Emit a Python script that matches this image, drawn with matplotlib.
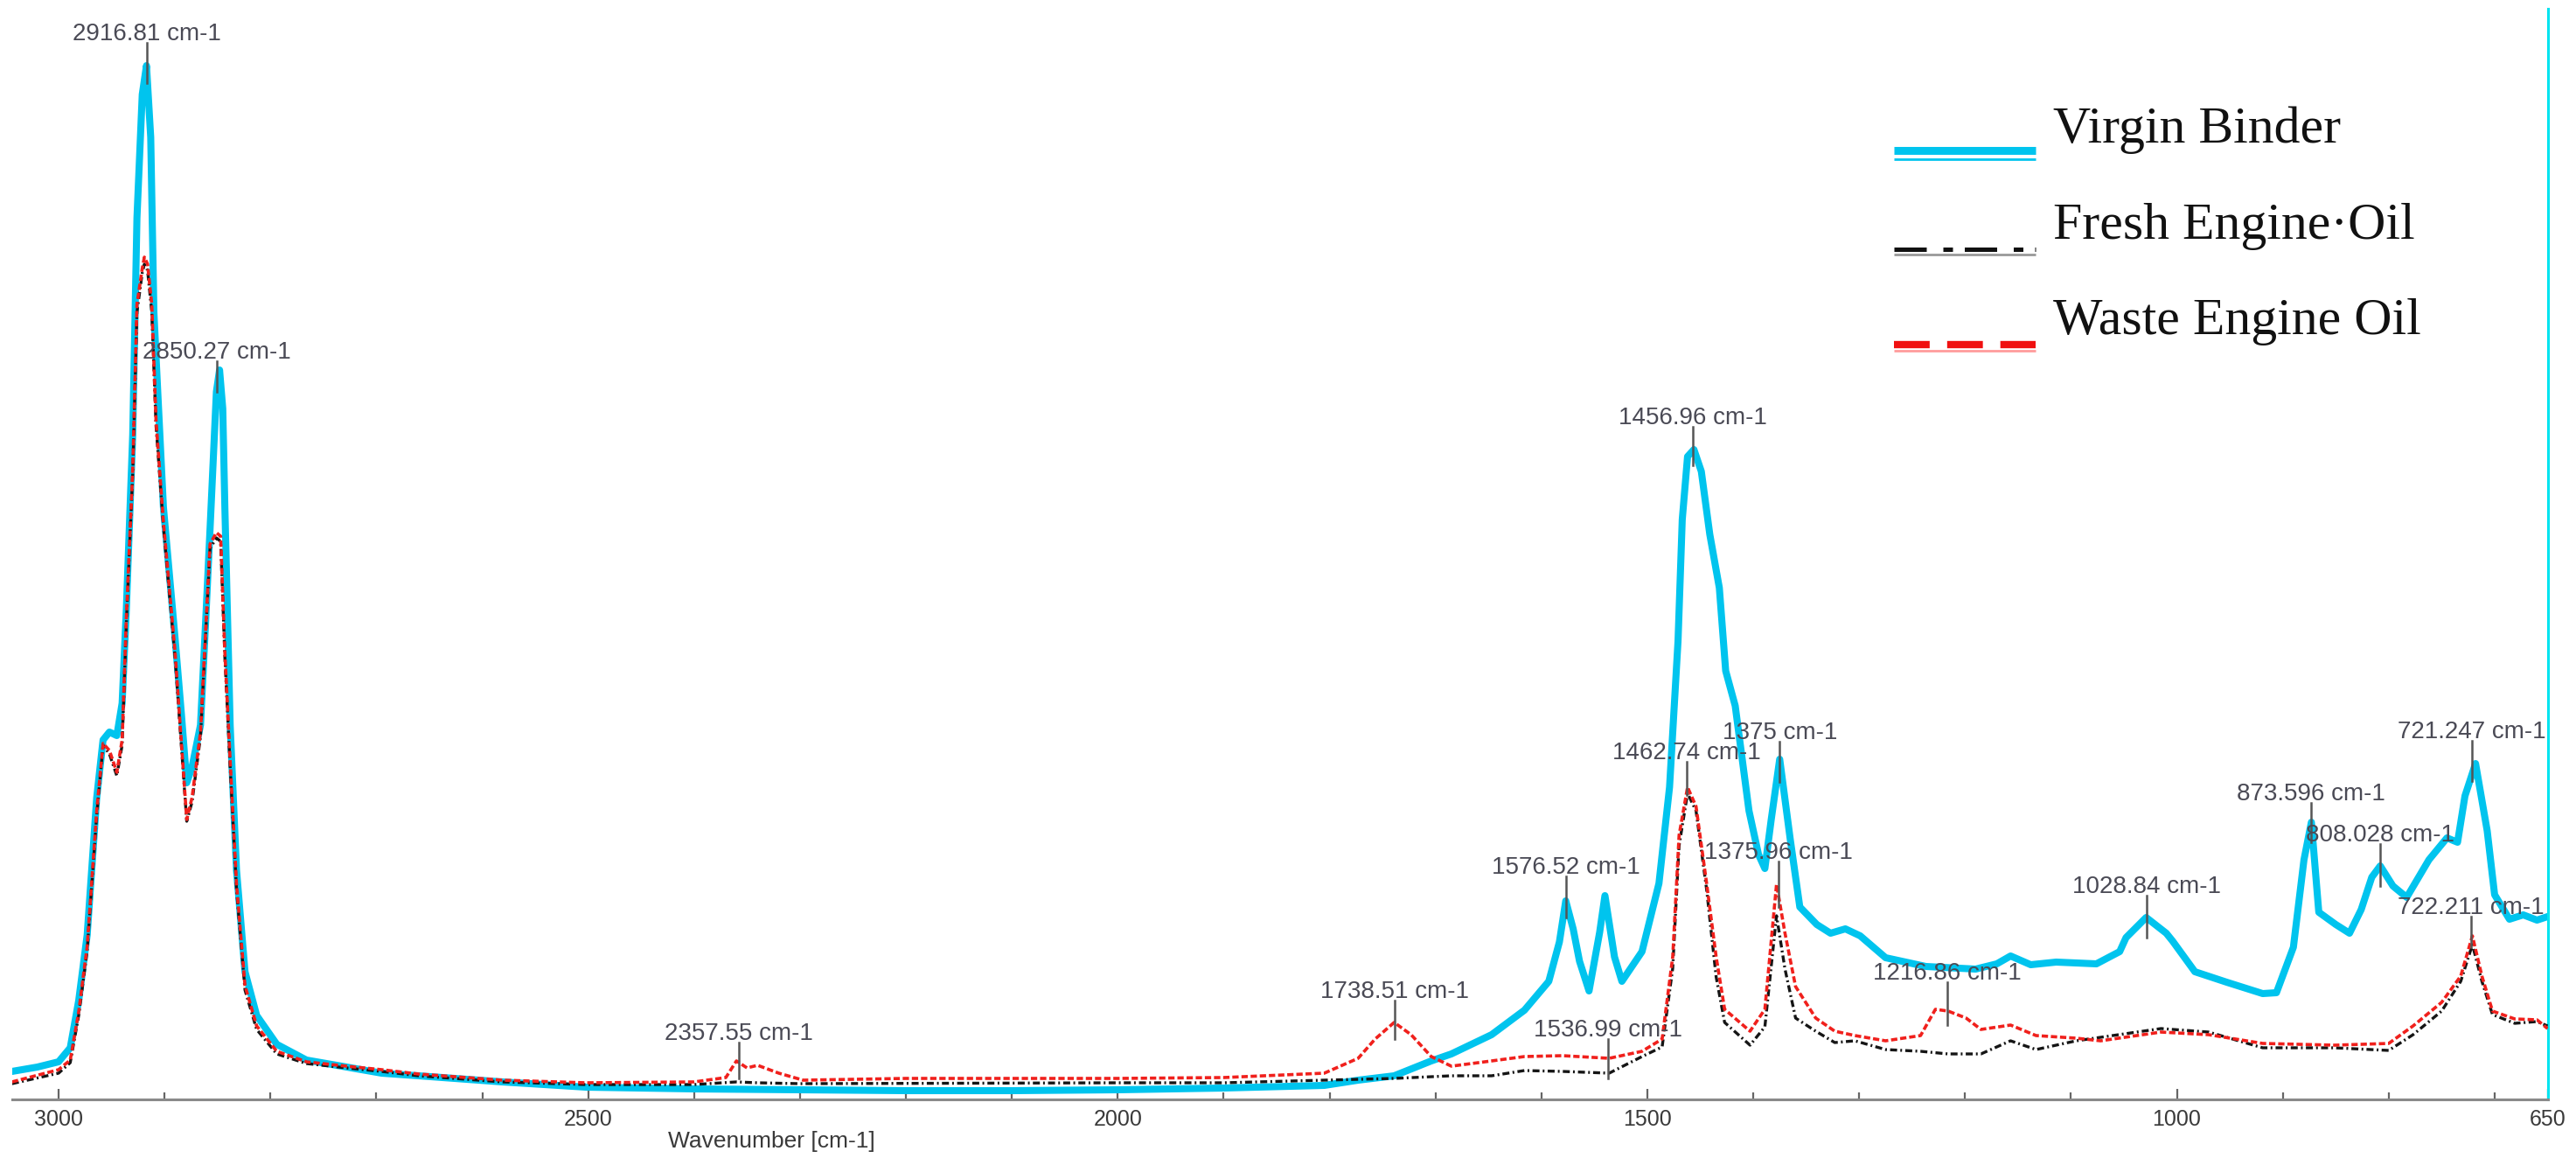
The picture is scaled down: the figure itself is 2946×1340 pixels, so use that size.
import numpy as np
import matplotlib
matplotlib.use('Agg')
import matplotlib.pyplot as plt
from matplotlib.lines import Line2D

# FTIR spectra: wavenumber (cm-1) and intensity (arbitrary units)
virgin_wn = [3044, 3020, 3000, 2989, 2981, 2973, 2964, 2958, 2952, 2945, 2940, 2936, 2930, 2926,
             2921, 2917, 2913, 2910, 2906, 2901, 2890, 2884, 2879, 2874, 2866, 2861, 2857, 2851,
             2848, 2845, 2843, 2838, 2832, 2824, 2813, 2794, 2766, 2728, 2695, 2660, 2581, 2502,
             2400, 2300, 2200, 2100, 2000, 1900, 1805, 1773, 1739, 1704, 1685, 1647, 1616, 1593,
             1583, 1577, 1570, 1564, 1555, 1545, 1540, 1531, 1524, 1505, 1489, 1479, 1471, 1467,
             1462, 1456, 1449, 1441, 1432, 1426, 1417, 1404, 1395, 1389, 1383, 1375, 1365, 1356,
             1340, 1327, 1313, 1299, 1275, 1237, 1190, 1170, 1157, 1138, 1114, 1076, 1054, 1048,
             1029, 1010, 1004, 983, 953, 919, 906, 890, 880, 873, 866, 850, 837, 826, 816, 808,
             796, 783, 762, 745, 735, 728, 718, 707, 700, 686, 673, 660, 650]
virgin_int = [32, 37, 43, 59, 113, 188, 345, 411, 420, 416, 453, 561, 760, 1008,
              1149, 1182, 1100, 900, 800, 677, 527, 440, 362, 380, 428, 550, 652, 809,
              834, 790, 677, 428, 262, 146, 96, 63, 45, 37, 30, 27, 20, 14,
              12, 11, 10, 10, 11, 13, 16, 22, 27, 44, 52, 74, 102, 135,
              180, 227, 195, 158, 124, 191, 233, 163, 135, 169, 247, 357, 524, 663,
              735, 743, 718, 646, 585, 490, 450, 330, 280, 264, 320, 389, 297, 220,
              200, 190, 195, 187, 162, 152, 149, 155, 164, 154, 157, 155, 169, 185,
              208, 190, 181, 146, 134, 121, 122, 174, 274, 317, 214, 200, 190, 217, 254, 267,
              244, 231, 274, 299, 294, 347, 384, 307, 234, 206, 211, 205, 209]

fresh_wn = [3044, 3000, 2989, 2981, 2973, 2964, 2958, 2952, 2945, 2940, 2936, 2930, 2926, 2921,
            2919, 2916, 2912, 2908, 2901, 2890, 2879, 2874, 2866, 2857, 2851, 2847, 2843, 2838,
            2832, 2824, 2813, 2794, 2766, 2728, 2695, 2660, 2581, 2502, 2400, 2360, 2340, 2300,
            2000, 1900, 1805, 1739, 1685, 1647, 1616, 1580, 1536, 1505, 1486, 1476, 1470, 1462,
            1454, 1444, 1435, 1427, 1403, 1389, 1378, 1370, 1360, 1341, 1323, 1304, 1275, 1242,
            1216, 1185, 1157, 1133, 1095, 1072, 1015, 970, 919, 851, 800, 777, 750, 732,
            721, 712, 702, 681, 660, 650]
fresh_int = [18, 30, 42, 96, 170, 325, 405, 395, 370, 405, 545, 715, 900, 945,
             955, 948, 900, 770, 655, 505, 318, 340, 415, 630, 642, 638, 505, 380,
             240, 125, 80, 52, 41, 36, 32, 27, 20, 17, 17, 20, 19, 18,
             19, 19, 22, 24, 27, 27, 33, 32, 30, 49, 60, 150, 290, 350,
             330, 240, 140, 88, 62, 83, 210, 149, 93, 78, 65, 67, 57, 55,
             52, 52, 67, 57, 67, 71, 81, 77, 59, 59, 56, 74, 101, 135,
             177, 135, 97, 87, 89, 84]

waste_wn = [3044, 3000, 2989, 2981, 2973, 2964, 2958, 2952, 2945, 2940, 2936, 2930, 2926, 2921,
            2919, 2916, 2912, 2908, 2901, 2890, 2879, 2874, 2866, 2857, 2851, 2847, 2843, 2838,
            2832, 2824, 2813, 2794, 2766, 2728, 2695, 2660, 2581, 2502, 2400, 2370, 2360, 2350,
            2340, 2320, 2297, 2200, 2000, 1900, 1805, 1773, 1757, 1739, 1723, 1704, 1685, 1647,
            1616, 1580, 1536, 1505, 1486, 1476, 1470, 1462, 1454, 1444, 1435, 1427, 1403, 1389,
            1378, 1370, 1360, 1341, 1323, 1304, 1275, 1242, 1228, 1216, 1199, 1185, 1157, 1133,
            1095, 1072, 1015, 970, 919, 851, 800, 777, 750, 732, 721, 712, 702, 681, 660, 650]
waste_int = [20, 34, 45, 100, 175, 330, 407, 399, 374, 411, 552, 720, 909, 950,
             963, 955, 909, 776, 660, 511, 320, 345, 420, 635, 648, 644, 511, 387,
             246, 130, 84, 55, 43, 38, 34, 29, 22, 19, 20, 25, 44, 36,
             39, 30, 22, 24, 24, 25, 30, 47, 69, 88, 74, 49, 38, 44,
             49, 50, 47, 55, 69, 163, 302, 357, 335, 247, 163, 103, 78, 103,
             246, 190, 129, 93, 78, 73, 67, 73, 103, 101, 93, 80, 85, 73,
             70, 67, 77, 74, 64, 62, 64, 84, 111, 141, 187, 141, 101, 92, 91, 81]

series_names = ['Virgin Binder', 'Fresh Engine\u00b7Oil', 'Waste Engine Oil']

# peak picks: label, wavenumber, marker top / bottom (intensity)
peak_labels = ['2916.81 cm-1', '2850.27 cm-1', '2357.55 cm-1', '1738.51 cm-1', '1576.52 cm-1',
               '1536.99 cm-1', '1456.96 cm-1', '1462.74 cm-1', '1375 cm-1', '1375.96 cm-1',
               '1216.86 cm-1', '1028.84 cm-1', '873.596 cm-1', '808.028 cm-1', '721.247 cm-1',
               '722.211 cm-1']
peak_wn = [2916.81, 2850.27, 2357.55, 1738.51, 1576.52, 1536.99, 1456.96, 1462.74, 1375.0,
           1375.96, 1216.86, 1028.84, 873.596, 808.028, 721.247, 722.211]
peak_top = [1208, 844, 65, 113, 255, 69, 769, 386, 409, 272, 134, 233, 339, 292, 410, 209]
peak_bottom = [1162, 809, 24, 69, 208, 24, 725, 348, 363, 220, 85, 185, 294, 244, 364, 174]

major_ticks = [3000, 2500, 2000, 1500, 1000, 650]
minor_ticks = [2900, 2800, 2700, 2600, 2400, 2300, 2200, 2100, 1900, 1800, 1700, 1600,
               1400, 1300, 1200, 1100, 900, 800, 700]

# ---- figure (pixel based layout)
W, H = 2946, 1340
fig = plt.figure(figsize=(W / 100, H / 100), dpi=100)


def fx(px):
    return px / W


def fy(py):
    return 1 - py / H


ax = fig.add_axes([fx(14), fy(1257), (2913.5 - 14) / W, 1257 / H])
ax.set_xlim(3043.75, 650)
ax.set_ylim(0, 1257)

cyan = '#00C4EE'
ax.plot(virgin_wn, virgin_int, color=cyan, lw=5.8, solid_joinstyle='round', zorder=2)
ax.plot(fresh_wn, fresh_int, color='#151515', lw=2.4, dashes=(2.4, 1.1, 0.6, 1.1), zorder=3)
ax.plot(waste_wn, waste_int, color='#F0201C', lw=2.6, dashes=(2.0, 0.9), zorder=4)

# peak markers
for lab, wn, top, bot in zip(peak_labels, peak_wn, peak_top, peak_bottom):
    ax.plot([wn, wn], [bot, top], color='#555555', lw=1.8, zorder=5)
    ax.annotate(lab, (wn, top), xytext=(0, 2), textcoords='offset points',
                ha='center', va='baseline', fontsize=20, color='#4a4a55',
                family='Liberation Sans', zorder=6)

# axes styling
for s in ['top', 'left']:
    ax.spines[s].set_visible(False)
ax.spines['bottom'].set_color('#8a8a8a')
ax.spines['bottom'].set_linewidth(2.2)
ax.spines['right'].set_color('#00E4F0')
ax.spines['right'].set_linewidth(2.2)
ax.spines['right'].set_bounds(0, 1247)
ax.set_yticks([])
ax.set_xticks(major_ticks)
ax.set_xticks(minor_ticks, minor=True)
ax.set_xticklabels([str(t) for t in major_ticks])
ax.tick_params(axis='x', which='major', direction='in', length=9, width=1.6, color='#666666',
               pad=8, labelsize=18, labelcolor='#3a3a3a')
ax.tick_params(axis='x', which='minor', direction='in', length=5.5, width=1.6, color='#666666')
for t in ax.get_xticklabels():
    t.set_family('Liberation Sans')
ax.set_xlabel('Wavenumber [cm-1]', fontsize=19, color='#3a3a3a', family='Liberation Sans')
ax.xaxis.set_label_coords((882 - 14) / (2913.5 - 14), -48 / 1257)
ax.xaxis.label.set_va('center')

# legend drawn by hand to match the original layout
x0, x1 = fx(2166), fx(2328)
fig.add_artist(Line2D([x0, x1], [fy(172)] * 2, transform=fig.transFigure, color=cyan, lw=6.5,
                      solid_capstyle='butt'))
fig.add_artist(Line2D([x0, x1], [fy(182)] * 2, transform=fig.transFigure, color=cyan, lw=2,
                      solid_capstyle='butt'))
fig.add_artist(Line2D([x0, x1], [fy(285)] * 2, transform=fig.transFigure, color='#111111',
                      lw=3.6, dashes=(7.4, 3.8, 2.2, 2.7), dash_capstyle='butt'))
fig.add_artist(Line2D([x0, x1], [fy(291)] * 2, transform=fig.transFigure, color='#999999',
                      lw=2, solid_capstyle='butt'))
fig.add_artist(Line2D([x0, x1], [fy(394)] * 2, transform=fig.transFigure, color='#F01010',
                      lw=6, dashes=(4.9, 2.4), dash_capstyle='butt'))
fig.add_artist(Line2D([x0, x1], [fy(401)] * 2, transform=fig.transFigure, color='#FF9C9C',
                      lw=2, solid_capstyle='butt'))
for name, base in zip(series_names, [163, 273, 382]):
    fig.text(fx(2348), fy(base), name, fontsize=43, family='Liberation Serif',
             color='#111111', ha='left', va='baseline')

fig.savefig('out.png', dpi=100)
